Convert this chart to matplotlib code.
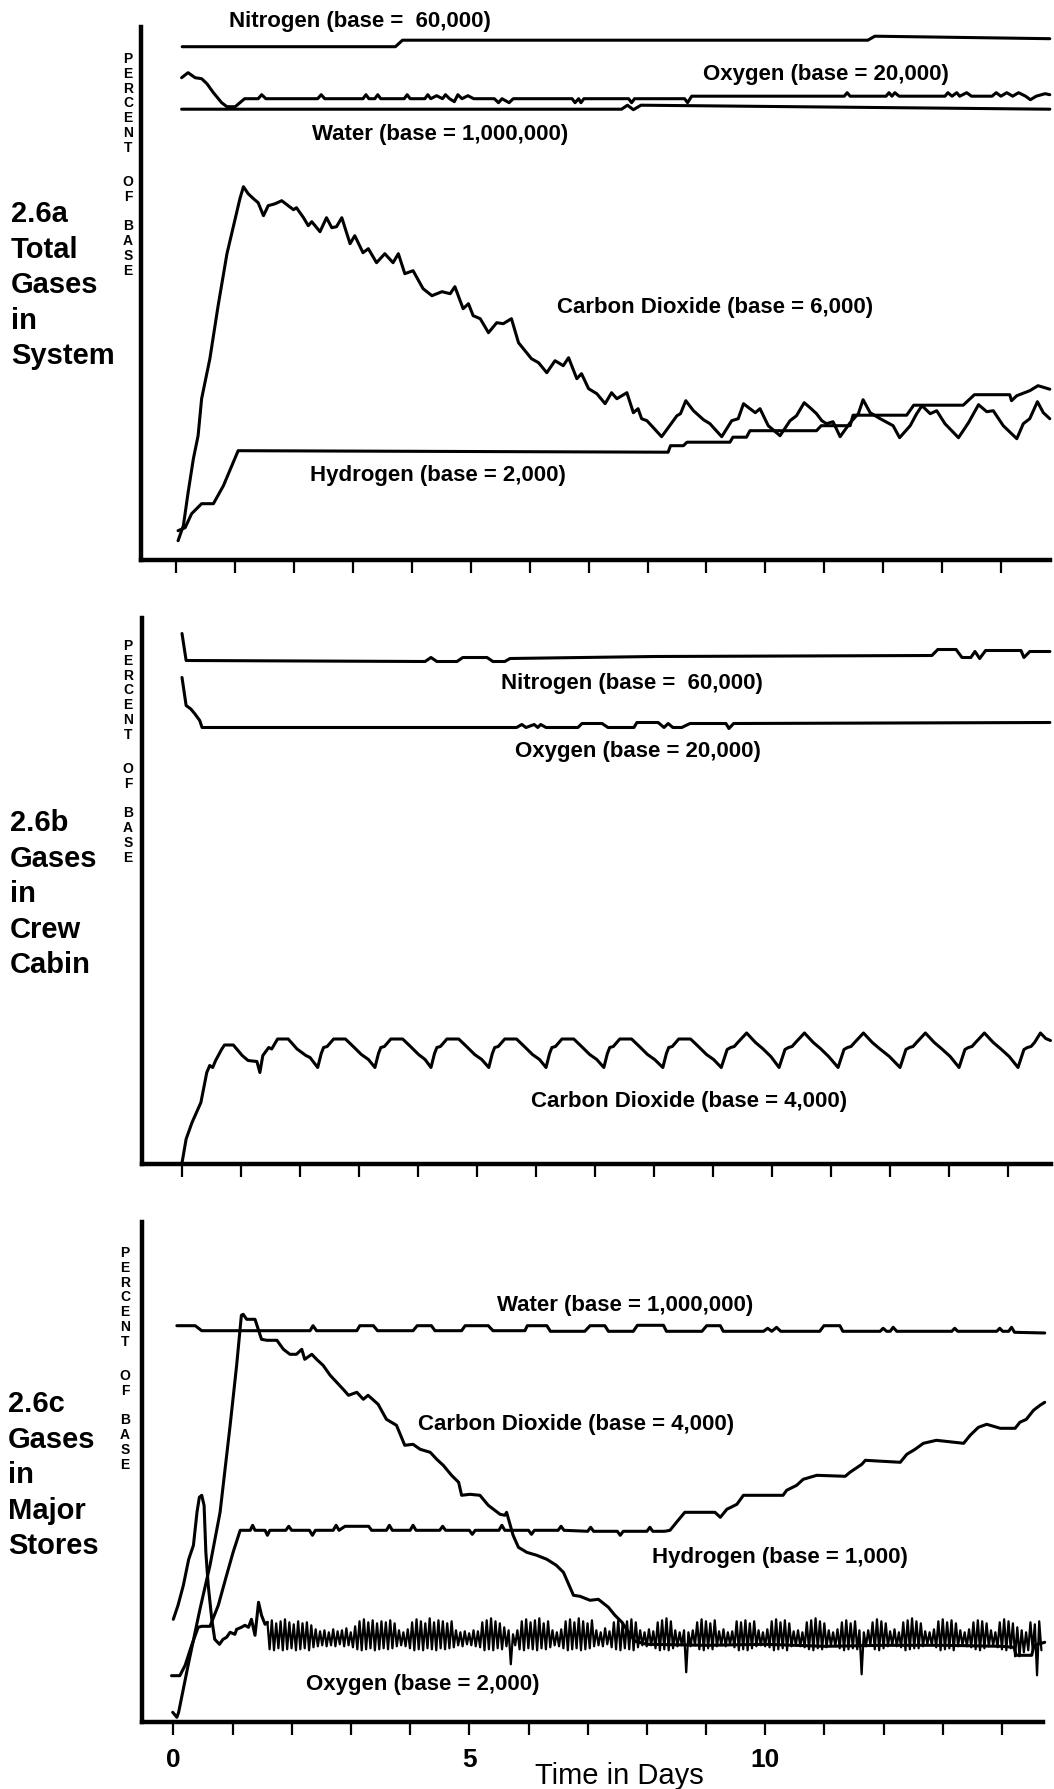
import numpy as np
import matplotlib.pyplot as plt

plt.rcParams['font.family'] = ['Liberation Sans', 'DejaVu Sans']

# ---------------------------------------------------------------------------
# data: (time in days, level in "percent of base" plot units)
# ---------------------------------------------------------------------------

# 2.6a  Total gases in system
a_nitrogen = [(0.10, 513), (3.72, 513), (3.84, 519.5), (11.74, 519.5),
              (11.86, 523.5), (14.83, 521)]
a_oxygen = [(0.09, 482), (0.20, 487), (0.32, 482), (0.43, 481), (0.52, 476),
            (0.63, 467), (0.77, 457), (0.86, 453), (1.00, 453), (1.08, 457),
            (1.16, 461), (1.39, 461), (1.45, 465), (1.52, 461), (2.40, 461),
            (2.46, 465), (2.52, 461), (3.17, 461), (3.22, 465), (3.27, 461),
            (3.37, 461), (3.42, 465), (3.47, 461), (3.87, 461), (3.92, 465),
            (3.97, 461), (4.22, 461), (4.27, 465), (4.32, 461), (4.42, 464),
            (4.52, 461), (4.57, 465), (4.64, 461), (4.72, 458), (4.78, 465),
            (4.85, 461), (4.95, 464), (5.05, 461), (5.40, 461), (5.47, 457),
            (5.53, 461), (5.65, 457), (5.72, 461), (6.72, 461), (6.77, 457),
            (6.83, 461), (6.87, 457), (6.92, 461), (7.68, 461), (7.73, 457),
            (7.78, 461), (8.63, 461), (8.68, 457), (8.75, 463.5), (11.34, 463.5),
            (11.39, 467), (11.44, 463.5), (12.05, 463.5), (12.10, 467),
            (12.15, 463.5), (12.20, 467), (12.27, 463.5), (13.05, 463.5),
            (13.10, 467), (13.17, 463.5), (13.25, 467), (13.30, 463.5),
            (13.42, 467), (13.50, 463.5), (13.85, 463.5), (13.92, 467),
            (14.00, 463.5), (14.10, 467), (14.20, 463.5), (14.30, 467),
            (14.42, 463.5), (14.50, 460), (14.60, 463.5), (14.75, 466),
            (14.83, 465)]
a_water = [(0.09, 450.5), (7.56, 450.5), (7.66, 454.5), (7.76, 450),
           (7.89, 454.5), (14.83, 450.5)]
a_co2 = [(0.03, 19), (0.12, 34), (0.20, 67), (0.29, 101), (0.37, 124),
         (0.43, 161), (0.57, 201), (0.71, 254), (0.86, 306), (1.00, 341),
         (1.08, 361), (1.14, 373), (1.22, 366), (1.31, 361), (1.39, 357),
         (1.48, 344), (1.56, 354), (1.68, 356), (1.79, 359), (1.90, 354),
         (1.99, 350), (2.04, 352), (2.16, 342), (2.24, 334), (2.30, 338),
         (2.44, 328), (2.55, 342), (2.64, 332), (2.72, 333), (2.81, 342),
         (2.95, 316), (3.03, 324), (3.17, 307), (3.26, 311), (3.40, 297),
         (3.54, 306), (3.68, 297), (3.77, 306), (3.88, 286), (4.02, 289),
         (4.19, 271), (4.34, 264), (4.51, 268), (4.65, 266), (4.73, 273),
         (4.87, 251), (4.96, 256), (5.04, 244), (5.16, 241), (5.30, 227),
         (5.44, 237), (5.55, 236), (5.69, 241), (5.81, 217), (6.03, 201),
         (6.15, 197), (6.29, 187), (6.43, 199), (6.57, 194), (6.66, 202),
         (6.80, 181), (6.88, 186), (7.00, 171), (7.14, 166), (7.28, 156),
         (7.39, 167), (7.48, 161), (7.65, 167), (7.76, 147), (7.84, 151),
         (7.90, 141), (7.99, 139), (8.10, 132), (8.24, 123), (8.50, 144),
         (8.56, 146), (8.65, 159), (8.78, 149), (8.95, 140), (9.06, 136),
         (9.26, 123), (9.43, 139), (9.54, 141), (9.63, 156), (9.74, 151),
         (9.83, 147), (9.91, 151), (10.05, 134), (10.25, 124), (10.42, 139),
         (10.53, 144), (10.66, 157), (10.76, 152), (10.87, 146), (10.96, 139),
         (11.04, 136), (11.15, 138), (11.27, 123), (11.44, 137), (11.58, 146),
         (11.66, 160), (11.78, 147), (11.95, 141), (12.17, 134), (12.28, 122),
         (12.46, 134), (12.57, 146), (12.66, 154), (12.80, 146), (12.91, 149),
         (13.05, 136), (13.28, 122), (13.45, 137), (13.62, 155), (13.76, 148),
         (13.87, 149), (14.04, 134), (14.27, 121), (14.38, 136), (14.49, 141),
         (14.62, 158), (14.72, 147), (14.83, 141)]
a_hydrogen = [(0.03, 29), (0.15, 32), (0.26, 46), (0.43, 56), (0.63, 56),
              (0.80, 74), (1.05, 109), (8.35, 107.5), (8.39, 114), (8.61, 114),
              (8.67, 117.5), (9.40, 117.5), (9.45, 122.5), (9.68, 122.5),
              (9.74, 129), (10.87, 129), (10.95, 134), (11.44, 134),
              (11.49, 144.5), (12.40, 144.5), (12.52, 154.5), (13.36, 154.5),
              (13.55, 165), (14.15, 165), (14.18, 159), (14.27, 164),
              (14.49, 169), (14.63, 174), (14.83, 170.5)]

# 2.6b  Gases in crew cabin
b_nitrogen = [(0.00, 530), (0.07, 503), (4.12, 502), (4.22, 506), (4.32, 502),
              (4.66, 502), (4.76, 506), (5.17, 506), (5.27, 502), (5.47, 502),
              (5.56, 505), (8.00, 507), (12.71, 508), (12.81, 514), (13.12, 514),
              (13.22, 506), (13.37, 506), (13.44, 512), (13.52, 505),
              (13.62, 513), (14.22, 513), (14.27, 506), (14.37, 512),
              (14.71, 512)]
b_oxygen = [(0.00, 486), (0.07, 458), (0.15, 454.5), (0.22, 449.5), (0.30, 443),
            (0.34, 436), (5.67, 436), (5.76, 439), (5.83, 436), (5.97, 439),
            (6.03, 436), (6.08, 439), (6.17, 436), (6.71, 436), (6.78, 440),
            (7.12, 440), (7.22, 436), (7.66, 436), (7.71, 441), (8.07, 441),
            (8.17, 436), (8.24, 440), (8.32, 436), (8.47, 436), (8.61, 440),
            (9.22, 440), (9.27, 435), (9.35, 440), (14.71, 441)]
b_co2 = [(0.00, 0.5), (0.07, 24.5), (0.17, 41), (0.32, 61), (0.42, 91),
         (0.47, 98), (0.52, 96), (0.57, 103), (0.67, 114), (0.72, 118.5),
         (0.87, 118.5), (1.02, 108), (1.12, 103), (1.27, 102), (1.32, 91),
         (1.37, 108), (1.47, 116), (1.52, 114.5), (1.62, 124.5), (1.80, 124.5),
         (1.95, 114.5), (2.10, 108), (2.17, 106),
         (2.30, 96), (2.36, 110), (2.40, 116), (2.46, 117), (2.57, 124.5),
         (2.77, 124.5), (2.92, 116), (3.04, 109), (3.16, 104),
         (3.27, 96), (3.33, 110), (3.37, 116), (3.43, 117), (3.54, 124.5),
         (3.74, 124.5), (3.89, 116), (4.01, 109), (4.12, 104),
         (4.22, 96), (4.28, 110), (4.32, 116), (4.38, 117), (4.49, 124.5),
         (4.69, 124.5), (4.84, 116), (4.96, 109), (5.08, 104),
         (5.20, 96), (5.26, 110), (5.30, 116), (5.36, 117), (5.47, 124.5),
         (5.67, 124.5), (5.82, 116), (5.94, 109), (6.06, 104),
         (6.17, 96), (6.23, 110), (6.27, 116), (6.33, 117), (6.44, 124.5),
         (6.64, 124.5), (6.79, 116), (6.91, 109), (7.03, 104),
         (7.15, 96), (7.21, 110), (7.25, 116), (7.31, 117), (7.42, 124.5),
         (7.62, 124.5), (7.77, 116), (7.89, 109), (8.01, 104),
         (8.15, 96), (8.21, 110), (8.25, 116), (8.31, 117), (8.42, 124.5),
         (8.62, 124.5), (8.77, 116), (8.89, 109), (9.01, 104),
         (9.14, 96), (9.24, 114), (9.30, 116), (9.36, 117), (9.42, 121),
         (9.57, 130.5), (9.72, 121), (9.84, 115), (9.98, 107),
         (10.12, 96), (10.22, 114), (10.28, 116), (10.34, 117), (10.40, 121),
         (10.55, 130.5), (10.70, 121), (10.82, 115), (10.96, 107),
         (11.12, 96), (11.22, 114), (11.28, 116), (11.34, 117), (11.40, 121),
         (11.55, 130.5), (11.70, 121), (11.82, 115), (11.99, 107),
         (12.17, 96), (12.27, 114), (12.33, 116), (12.39, 117), (12.45, 121),
         (12.60, 130.5), (12.75, 121), (12.87, 115), (13.02, 107),
         (13.17, 96), (13.27, 114), (13.33, 116), (13.39, 117), (13.45, 121),
         (13.60, 130.5), (13.75, 121), (13.87, 115), (14.02, 107),
         (14.17, 96), (14.27, 114), (14.33, 116), (14.39, 117), (14.45, 121),
         (14.55, 130.5), (14.64, 125), (14.72, 123)]

# 2.6c  Gases in major stores
c_water = [(0.06, 396.6), (0.37, 396.6), (0.48, 391.6), (2.31, 391.6),
           (2.36, 396.6), (2.42, 391.6), (3.10, 391.6), (3.15, 396.6),
           (3.38, 396.6), (3.45, 391.6), (4.05, 391.6), (4.12, 396.6),
           (4.36, 396.6), (4.42, 391.6), (4.87, 391.6), (4.93, 396.6),
           (5.32, 396.6), (5.40, 391.6), (5.94, 391.6), (5.98, 396.6),
           (6.31, 396.6), (6.37, 391), (6.95, 391), (7.04, 396.6), (7.29, 396.6),
           (7.35, 391), (7.77, 391), (7.84, 397), (8.28, 397), (8.33, 391),
           (8.93, 391), (9.01, 396.6), (9.24, 396.6), (9.29, 391), (9.97, 391),
           (10.04, 394), (10.11, 391), (10.19, 395), (10.26, 391), (10.92, 391),
           (10.99, 396.6), (11.26, 396.6), (11.31, 391), (11.94, 391),
           (11.99, 394), (12.05, 391), (12.11, 391), (12.16, 395), (12.22, 391),
           (13.15, 391), (13.20, 394), (13.25, 391), (13.91, 391), (13.96, 394),
           (14.01, 391), (14.11, 391), (14.16, 395), (14.21, 390), (14.72, 389.3)]
c_co2 = [(-0.01, 10), (0.06, 5), (0.09, 10), (0.25, 57), (0.45, 113),
         (0.62, 157), (0.79, 210), (0.96, 297), (1.07, 357), (1.15, 407),
         (1.18, 408), (1.24, 403), (1.38, 403), (1.49, 383), (1.58, 382),
         (1.75, 382), (1.86, 373), (1.97, 368), (2.08, 368), (2.17, 373),
         (2.22, 363), (2.34, 368), (2.42, 363), (2.53, 357), (2.65, 347),
         (2.76, 340), (2.87, 333), (2.96, 327), (3.10, 330), (3.21, 323),
         (3.29, 327), (3.46, 318), (3.60, 303), (3.77, 297), (3.91, 277),
         (4.05, 278), (4.17, 273), (4.34, 270), (4.45, 263), (4.56, 257),
         (4.70, 247), (4.82, 240), (4.87, 227), (5.01, 228), (5.18, 227),
         (5.32, 217), (5.52, 208), (5.60, 207), (5.63, 210), (5.74, 187),
         (5.83, 175), (5.97, 170), (6.14, 167), (6.31, 163), (6.47, 157),
         (6.59, 150), (6.76, 127), (6.87, 126), (7.04, 122), (7.18, 123),
         (7.35, 115), (7.46, 107), (7.58, 100), (7.69, 90), (7.80, 81),
         (8.00, 78), (9.00, 77), (10.00, 78), (11.00, 76), (12.00, 77),
         (13.00, 77), (14.00, 76), (14.20, 75), (14.24, 67), (14.50, 67),
         (14.54, 77), (14.72, 80)]
c_hydrogen = [(-0.03, 46.6), (0.11, 46.6), (0.20, 57), (0.31, 77), (0.42, 95),
              (0.48, 96), (0.62, 96), (0.76, 117), (0.90, 147), (1.01, 170),
              (1.13, 192), (1.30, 192), (1.34, 197), (1.38, 192), (1.55, 192),
              (1.59, 187), (1.63, 192), (1.90, 192), (1.95, 196), (2.00, 192),
              (2.30, 192), (2.35, 187), (2.40, 192), (2.70, 192), (2.75, 197),
              (2.80, 192), (2.90, 196), (3.30, 196), (3.35, 192), (3.60, 192),
              (3.65, 197), (3.70, 192), (4.00, 192), (4.05, 197), (4.10, 192),
              (4.50, 192), (4.55, 196), (4.60, 192), (5.00, 192), (5.05, 188),
              (5.10, 192), (5.50, 192), (5.55, 197), (5.60, 192), (6.00, 192),
              (6.05, 188), (6.10, 192), (6.50, 192), (6.55, 196), (6.60, 192),
              (7.00, 191), (7.05, 195), (7.10, 191), (7.50, 191), (7.55, 187),
              (7.60, 191), (8.00, 191), (8.05, 195), (8.10, 191), (8.30, 191),
              (8.39, 192), (8.50, 200), (8.64, 210), (9.15, 210), (9.24, 205),
              (9.35, 213), (9.52, 218), (9.63, 227), (10.30, 227), (10.36, 232),
              (10.53, 237), (10.64, 243), (10.87, 247), (11.35, 246),
              (11.43, 250), (11.63, 258), (11.69, 262), (12.28, 260),
              (12.39, 268), (12.53, 273), (12.67, 279), (12.89, 282),
              (13.35, 279), (13.46, 287), (13.60, 295), (13.74, 298),
              (13.97, 294), (14.22, 294), (14.30, 300), (14.41, 303),
              (14.53, 312), (14.64, 317), (14.72, 320)]
c_oxygen_start = [(0.00, 103), (0.08, 117), (0.17, 137), (0.26, 163),
                  (0.34, 177), (0.40, 210), (0.44, 225), (0.48, 227),
                  (0.52, 217), (0.55, 170), (0.59, 137), (0.65, 103),
                  (0.70, 83), (0.78, 78), (0.84, 83), (0.90, 85), (0.96, 90),
                  (1.04, 88), (1.07, 93), (1.15, 95), (1.21, 97), (1.27, 95),
                  (1.32, 103), (1.38, 87), (1.44, 120), (1.49, 107), (1.55, 98),
                  (1.59, 100)]
# after day 1.59 the store oxygen swings up and down; one reading per 1/27 day
c_oxygen_swing_start = 1.59
c_oxygen_swing = [
    100, 73, 102, 72, 99, 74, 101, 72, 103, 73, 100, 74, 98, 72, 101, 73, 99, 74, 100, 72, 97, 75, 93, 76, 91, 77, 92,
    76, 90, 77, 93, 76, 91, 78, 92, 76, 94, 77, 90, 75, 96, 73, 101, 72, 103, 73, 100, 74, 102, 72, 99, 73, 101, 74,
    100, 73, 102, 74, 99, 76, 92, 77, 90, 76, 93, 74, 100, 72, 103, 73, 101, 72, 99, 74, 104, 73, 100, 72, 102, 74, 101,
    73, 99, 74, 101, 75, 92, 77, 90, 76, 91, 78, 89, 77, 92, 76, 91, 75, 100, 72, 102, 73, 104, 72, 101, 74, 99, 73,
    95, 76, 92, 58, 88, 77, 92, 73, 101, 72, 103, 74, 100, 73, 102, 72, 104, 74, 99, 73, 101, 75, 92, 77, 90, 76, 93,
    74, 101, 72, 103, 73, 100, 74, 104, 72, 101, 73, 99, 74, 102, 76, 92, 77, 90, 76, 94, 78, 91, 75, 100, 73, 102, 72,
    99, 74, 101, 73, 103, 72, 100, 75, 92, 77, 90, 76, 93, 77, 91, 74, 100, 72, 102, 73, 104, 72, 101, 74, 92, 76, 90,
    77, 92, 50, 90, 76, 92, 77, 100, 73, 103, 72, 101, 74, 99, 73, 102, 76, 91, 77, 93, 76, 90, 78, 91, 75, 101, 72,
    100, 73, 102, 72, 99, 74, 101, 76, 92, 77, 90, 76, 93, 75, 101, 72, 103, 73, 100, 74, 102, 72, 99, 76, 91, 77, 92,
    76, 90, 75, 100, 73, 102, 72, 104, 74, 101, 73, 99, 75, 92, 77, 90, 76, 93, 74, 100, 72, 102, 73, 99, 74, 101, 73,
    92, 48, 90, 76, 92, 77, 100, 73, 103, 72, 101, 74, 99, 76, 91, 77, 93, 76, 90, 75, 100, 72, 102, 73, 104, 74, 101,
    74, 99, 76, 91, 78, 90, 77, 93, 75, 101, 72, 103, 73, 100, 74, 102, 72, 99, 76, 92, 77, 90, 76, 93, 75, 100, 73,
    102, 72, 101, 74, 99, 76, 92, 77, 90, 75, 100, 73, 103, 72, 101, 74, 99, 66, 95, 66, 92, 70, 90, 72, 100, 73, 98,
    47, 101, 72]

# ---------------------------------------------------------------------------
W, H = 1054, 1790
fig = plt.figure(figsize=(W / 100, H / 100), dpi=100)


def panel(left, right, top, base, day0, per_day):
    # axes box given in pixels of the page, x scale set so ticks fall on days
    ax = fig.add_axes([left / W, 1 - base / H, (right - left) / W, (base - top) / H])
    ax.set_xlim((left - day0) / per_day, (right - day0) / per_day)
    ax.set_ylim(0, base - top)
    ax.patch.set_alpha(0)
    for s in ['top', 'right']:
        ax.spines[s].set_visible(False)
    for s in ['left', 'bottom']:
        ax.spines[s].set_linewidth(3.2)
        ax.spines[s].set_capstyle('projecting')
    ax.set_yticks([])
    ax.set_xticks(range(15))
    ax.set_xticklabels([])
    ax.tick_params(axis='x', direction='out', length=9, width=1.6, color='black')
    return ax


def draw(ax, pts, lw=2.2):
    t, v = zip(*pts)
    ax.plot(t, v, color='black', lw=lw, solid_joinstyle='round',
            solid_capstyle='round', clip_on=False)


def put(x, y, s, **kw):
    fig.text(x / W, 1 - y / H, s, color='black', **kw)


def side_title(x, y0, lines):
    for i, s in enumerate(lines):
        put(x, y0 + i * 35.6, s, fontsize=21, fontweight='bold',
            ha='left', va='baseline')


def percent_of_base(x, y0):
    letters = 'PERCENTOFBASE'
    slots = [0, 1, 2, 3, 4, 5, 6, 8.3, 9.3, 11.3, 12.3, 13.3, 14.3]
    for ch, k in zip(letters, slots):
        put(x, y0 + k * 14.8, ch, fontsize=10, fontweight='bold',
            ha='center', va='center')


def curve_label(x, y, s):
    put(x, y, s, fontsize=16, fontweight='bold', ha='left', va='center')


# ---- 2.6a ----
ax_a = panel(141, 1050, 28, 560.7, 176.3, 58.9)
for pts in (a_nitrogen, a_oxygen, a_water, a_co2, a_hydrogen):
    draw(ax_a, pts)
side_title(11, 222, ['2.6a', 'Total', 'Gases', 'in', 'System'])
percent_of_base(128, 59)
curve_label(229, 21, 'Nitrogen (base =  60,000)')
curve_label(703, 74.5, 'Oxygen (base = 20,000)')
curve_label(312, 134.5, 'Water (base = 1,000,000)')
curve_label(557, 308, 'Carbon Dioxide (base = 6,000)')
curve_label(310, 475.5, 'Hydrogen (base = 2,000)')

# ---- 2.6b ----
ax_b = panel(142, 1051, 619, 1164.5, 182, 59)
for pts in (b_nitrogen, b_oxygen, b_co2):
    draw(ax_b, pts)
side_title(10, 831, ['2.6b', 'Gases', 'in', 'Crew', 'Cabin'])
percent_of_base(128, 646)
curve_label(501, 683, 'Nitrogen (base =  60,000)')
curve_label(515, 751.5, 'Oxygen (base = 20,000)')
curve_label(531, 1102, 'Carbon Dioxide (base = 4,000)')

# ---- 2.6c ----
ax_c = panel(141.7, 1043.3, 1223.3, 1723.3, 173.3, 59.2)
draw(ax_c, c_water)
draw(ax_c, c_co2)
draw(ax_c, c_hydrogen)
draw(ax_c, c_oxygen_start)
swing_t = c_oxygen_swing_start + np.arange(len(c_oxygen_swing)) / 27
draw(ax_c, list(zip(swing_t, c_oxygen_swing)), lw=1.6)
side_title(8, 1412, ['2.6c', 'Gases', 'in', 'Major', 'Stores'])
percent_of_base(125, 1253)
curve_label(497, 1305, 'Water (base = 1,000,000)')
curve_label(418, 1425, 'Carbon Dioxide (base = 4,000)')
curve_label(652, 1558, 'Hydrogen (base = 1,000)')
curve_label(305.5, 1684.5, 'Oxygen (base = 2,000)')

ax_c.set_xticklabels(['0', '', '', '', '', '5', '', '', '', '', '10', '', '', '', ''],
                     fontsize=19, fontweight='bold')
ax_c.tick_params(axis='x', pad=9)
put(619, 1776, 'Time in Days', fontsize=21, ha='center', va='center')

fig.savefig('out.png', dpi=100, facecolor='white')
